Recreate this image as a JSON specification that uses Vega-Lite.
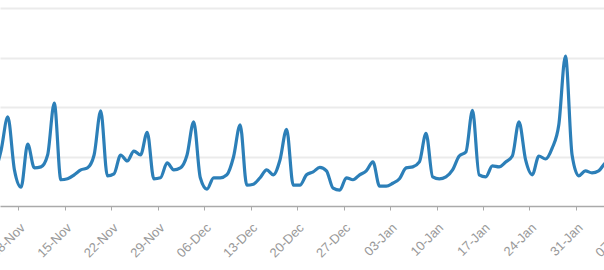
{
  "$schema": "https://vega.github.io/schema/vega-lite/v6.json",
  "width": 604,
  "height": 198,
  "autosize": {"type": "none"},
  "padding": {"left": 0, "top": 8, "right": 0, "bottom": 64},
  "background": "white",
  "config": {"view": {"stroke": null}},
  "data": {"values": [
    {"date": "2020-11-04T10:00", "value": 63},
    {"date": "2020-11-05T10:00", "value": 113},
    {"date": "2020-11-06T10:00", "value": 180},
    {"date": "2020-11-07T10:00", "value": 73},
    {"date": "2020-11-08T10:00", "value": 38},
    {"date": "2020-11-09T10:00", "value": 125},
    {"date": "2020-11-10T10:00", "value": 77},
    {"date": "2020-11-11T10:00", "value": 79},
    {"date": "2020-11-12T10:00", "value": 103},
    {"date": "2020-11-13T10:00", "value": 208},
    {"date": "2020-11-14T10:00", "value": 53},
    {"date": "2020-11-15T10:00", "value": 55},
    {"date": "2020-11-16T10:00", "value": 63},
    {"date": "2020-11-17T10:00", "value": 73},
    {"date": "2020-11-18T10:00", "value": 77},
    {"date": "2020-11-19T10:00", "value": 103},
    {"date": "2020-11-20T10:00", "value": 192},
    {"date": "2020-11-21T10:00", "value": 61},
    {"date": "2020-11-22T10:00", "value": 65},
    {"date": "2020-11-23T10:00", "value": 103},
    {"date": "2020-11-24T10:00", "value": 91},
    {"date": "2020-11-25T10:00", "value": 111},
    {"date": "2020-11-26T10:00", "value": 103},
    {"date": "2020-11-27T10:00", "value": 149},
    {"date": "2020-11-28T10:00", "value": 55},
    {"date": "2020-11-29T10:00", "value": 57},
    {"date": "2020-11-30T10:00", "value": 87},
    {"date": "2020-12-01T10:00", "value": 73},
    {"date": "2020-12-02T10:00", "value": 77},
    {"date": "2020-12-03T10:00", "value": 103},
    {"date": "2020-12-04T10:00", "value": 170},
    {"date": "2020-12-05T10:00", "value": 57},
    {"date": "2020-12-06T10:00", "value": 34},
    {"date": "2020-12-07T10:00", "value": 57},
    {"date": "2020-12-08T10:00", "value": 57},
    {"date": "2020-12-09T10:00", "value": 63},
    {"date": "2020-12-10T10:00", "value": 99},
    {"date": "2020-12-11T10:00", "value": 164},
    {"date": "2020-12-12T10:00", "value": 42},
    {"date": "2020-12-13T10:00", "value": 44},
    {"date": "2020-12-14T10:00", "value": 57},
    {"date": "2020-12-15T10:00", "value": 73},
    {"date": "2020-12-16T10:00", "value": 63},
    {"date": "2020-12-17T10:00", "value": 93},
    {"date": "2020-12-18T10:00", "value": 155},
    {"date": "2020-12-19T10:00", "value": 42},
    {"date": "2020-12-20T10:00", "value": 42},
    {"date": "2020-12-21T10:00", "value": 63},
    {"date": "2020-12-22T10:00", "value": 69},
    {"date": "2020-12-23T10:00", "value": 78},
    {"date": "2020-12-24T10:00", "value": 71},
    {"date": "2020-12-25T10:00", "value": 36},
    {"date": "2020-12-26T10:00", "value": 32},
    {"date": "2020-12-27T10:00", "value": 57},
    {"date": "2020-12-28T10:00", "value": 53},
    {"date": "2020-12-29T10:00", "value": 63},
    {"date": "2020-12-30T10:00", "value": 71},
    {"date": "2020-12-31T10:00", "value": 89},
    {"date": "2021-01-01T10:00", "value": 40},
    {"date": "2021-01-02T10:00", "value": 40},
    {"date": "2021-01-03T10:00", "value": 46},
    {"date": "2021-01-04T10:00", "value": 55},
    {"date": "2021-01-05T10:00", "value": 77},
    {"date": "2021-01-06T10:00", "value": 79},
    {"date": "2021-01-07T10:00", "value": 89},
    {"date": "2021-01-08T10:00", "value": 147},
    {"date": "2021-01-09T10:00", "value": 59},
    {"date": "2021-01-10T10:00", "value": 55},
    {"date": "2021-01-11T10:00", "value": 59},
    {"date": "2021-01-12T10:00", "value": 73},
    {"date": "2021-01-13T10:00", "value": 101},
    {"date": "2021-01-14T10:00", "value": 109},
    {"date": "2021-01-15T10:00", "value": 193},
    {"date": "2021-01-16T10:00", "value": 63},
    {"date": "2021-01-17T10:00", "value": 59},
    {"date": "2021-01-18T10:00", "value": 81},
    {"date": "2021-01-19T10:00", "value": 79},
    {"date": "2021-01-20T10:00", "value": 89},
    {"date": "2021-01-21T10:00", "value": 101},
    {"date": "2021-01-22T10:00", "value": 170},
    {"date": "2021-01-23T10:00", "value": 93},
    {"date": "2021-01-24T10:00", "value": 63},
    {"date": "2021-01-25T10:00", "value": 101},
    {"date": "2021-01-26T10:00", "value": 95},
    {"date": "2021-01-27T10:00", "value": 117},
    {"date": "2021-01-28T10:00", "value": 164},
    {"date": "2021-01-29T10:00", "value": 303},
    {"date": "2021-01-30T10:00", "value": 103},
    {"date": "2021-01-31T10:00", "value": 61},
    {"date": "2021-02-01T10:00", "value": 71},
    {"date": "2021-02-02T10:00", "value": 67},
    {"date": "2021-02-03T10:00", "value": 71},
    {"date": "2021-02-04T10:00", "value": 87},
    {"date": "2021-02-05T10:00", "value": 93}
  ]},
  "mark": {"type": "line", "interpolate": "monotone", "color": "#2c7fb8", "strokeWidth": 3.2, "clip": true},
  "encoding": {
    "x": {
      "field": "date", "type": "temporal",
      "scale": {
        "domain": [
          {"year": 2020, "month": 11, "date": 5, "hours": 5, "minutes": 50},
          {"year": 2021, "month": 2, "date": 8, "hours": 3, "minutes": 22}
        ],
        "range": [0, 630]
      },
      "axis": {
        "title": null,
        "format": "%d-%b",
        "labelAngle": -45,
        "labelFlush": false,
        "labelOverlap": false,
        "labelColor": "#999999",
        "labelFont": "Liberation Sans",
        "labelFontSize": 13,
        "labelPadding": 11,
        "tickColor": "#aaaaaa",
        "tickSize": 4,
        "domainColor": "#aaaaaa",
        "domainWidth": 1.5,
        "grid": false,
        "values": [
          {"year": 2020, "month": 11, "date": 8},
          {"year": 2020, "month": 11, "date": 15},
          {"year": 2020, "month": 11, "date": 22},
          {"year": 2020, "month": 11, "date": 29},
          {"year": 2020, "month": 12, "date": 6},
          {"year": 2020, "month": 12, "date": 13},
          {"year": 2020, "month": 12, "date": 20},
          {"year": 2020, "month": 12, "date": 27},
          {"year": 2021, "month": 1, "date": 3},
          {"year": 2021, "month": 1, "date": 10},
          {"year": 2021, "month": 1, "date": 17},
          {"year": 2021, "month": 1, "date": 24},
          {"year": 2021, "month": 1, "date": 31},
          {"year": 2021, "month": 2, "date": 7}
        ]
      }
    },
    "y": {
      "field": "value", "type": "quantitative",
      "scale": {"domain": [0, 400], "nice": false, "zero": false},
      "axis": {
        "title": null, "labels": false, "ticks": false, "domain": false,
        "grid": true, "gridColor": "#ebebeb", "gridWidth": 2,
        "values": [100, 200, 300, 400]
      }
    }
  }
}
